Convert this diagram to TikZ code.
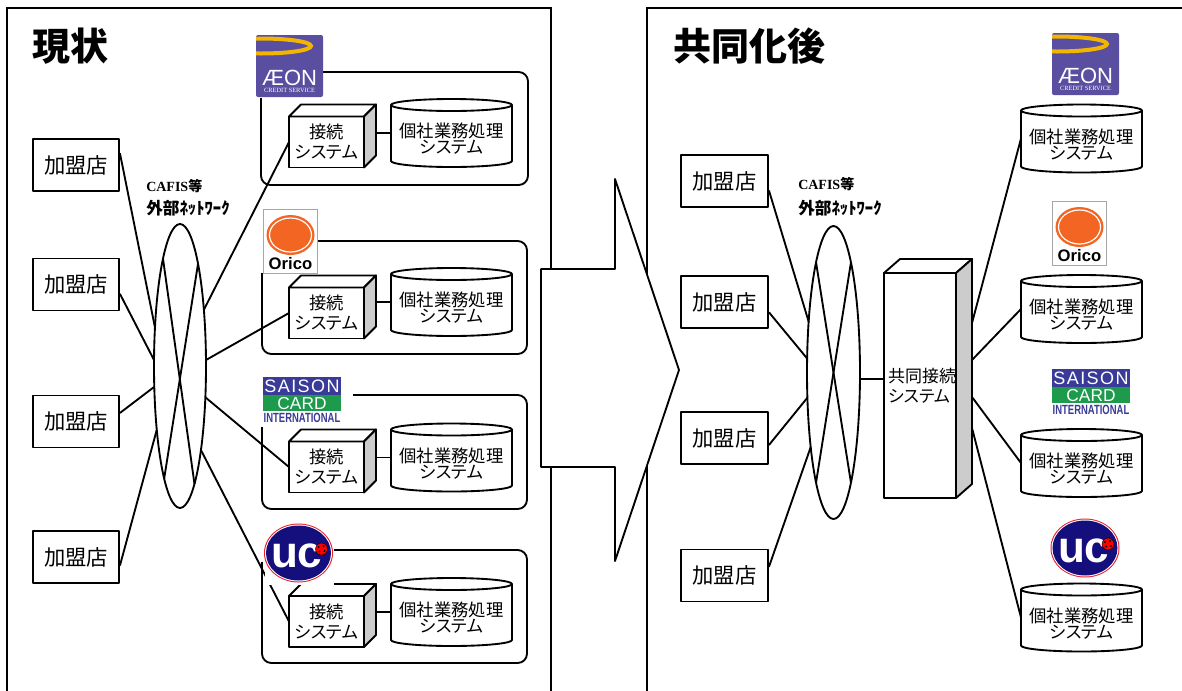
\documentclass[tikz,border=0pt]{standalone}
\usepackage{fontspec}
\usepackage{graphicx}
\usetikzlibrary{shapes.geometric,calc}
\newfontfamily\jp{Noto Sans CJK JP}[RawFeature=+palt]
\newfontfamily\lsans{Liberation Sans}
\newfontfamily\lserif{Liberation Serif}
\definecolor{aeonpurple}{RGB}{90,78,160}
\definecolor{aeonyellow}{RGB}{242,182,0}
\definecolor{oricoorange}{RGB}{242,101,34}
\definecolor{saisonblue}{RGB}{58,58,152}
\definecolor{saisongreen}{RGB}{29,154,76}
\definecolor{ucnavy}{RGB}{20,15,125}
\definecolor{ucred}{RGB}{232,32,42}
\definecolor{sidegray}{RGB}{204,204,204}
\tikzset{
  thk/.style={line width=1.4pt, line join=round},
  frm/.style={line width=1.5pt},
  shopbox/.style={thk, draw, fill=white, minimum width=64.5pt, minimum height=39pt, inner sep=0pt,
    font=\jp\fontsize{16}{18}\selectfont},
  frontbox/.style={thk, draw, fill=white, minimum width=56.25pt, minimum height=38.25pt, inner sep=0pt,
    outer sep=0pt, align=center, font=\jp\fontsize{13}{15}\selectfont},
  kyobox/.style={thk, draw, fill=white, minimum width=54pt, minimum height=168.75pt, inner sep=0pt,
    outer sep=0pt, align=left, font=\jp\fontsize{12.75}{15}\selectfont},
  cylbox/.style={minimum width=90.75pt, minimum height=51pt, inner sep=0pt, outer sep=0pt},
  cyltext/.style={align=center, inner sep=0pt, font=\jp\fontsize{13}{12}\selectfont},
  net/.style={draw, ellipse, thk, inner sep=0pt, outer sep=0pt},
  grp/.style={thk, rounded corners=7pt},
  cafis/.style={anchor=west, inner sep=0pt, font=\jp\bfseries\fontsize{12.5}{13}\selectfont},
  ttl/.style={inner sep=0pt, font=\jp\bfseries\fontsize{28.5}{30}\selectfont}
}
\newcommand\mkthreed[3]{%
  \draw[thk, fill=white] (#1.north west) -- ++(#2,-#3) -- ($(#1.north east)+(#2,-#3)$) -- (#1.north east) -- cycle;
  \draw[thk, fill=sidegray] (#1.north east) -- ++(#2,-#3) -- ($(#1.south east)+(#2,-#3)$) -- (#1.south east) -- cycle;}
\newcommand\mkcyl[1]{%
  \draw[thk, fill=white] ($(#1.north west)+(0,6)$) -- ($(#1.south west)+(0,-6)$)
     arc[start angle=180, end angle=0, x radius=60.5, y radius=6]
     -- ($(#1.north east)+(0,6)$)
     arc[start angle=0, end angle=-180, x radius=60.5, y radius=6] -- cycle;
  \draw[thk] ($(#1.north west)+(0,6)$) arc[start angle=180, end angle=0, x radius=60.5, y radius=6];}
\newcommand\aeonlogo[3]{%
  \begin{scope}[shift={(#1,#2)}]
    \fill[aeonpurple, rounded corners=1.5pt] (0,0) rectangle (67,62);
    \begin{scope}
      \clip (0,0) rectangle (67,62);
      \draw[aeonyellow, line width=3pt] (5,11) ellipse [x radius=50, y radius=7.5];
    \end{scope}
    \node[text=white, inner sep=0pt, font=\lsans\fontsize{16.5}{16}\selectfont] (#3) at (33.5,42.5) {ÆON};
    \node[text=white, inner sep=0pt, font=\lserif\fontsize{4.8}{5}\selectfont] (#3s) at (33.5,55.5) {CREDIT SERVICE};
  \end{scope}}
\newcommand\oricologo[3]{%
  \begin{scope}[shift={(#1,#2)}]
    \draw[gray!70, fill=white, line width=0.4pt] (0,0) rectangle (54,64);
    \fill[oricoorange] (27.5,26) ellipse [x radius=24, y radius=20];
    \draw[white, line width=0.9pt] (27.5,26) ellipse [x radius=21, y radius=17];
    \node[inner sep=0pt, font=\lsans\bfseries\fontsize{12.5}{13}\selectfont] (#3) at (27.5,55) {Orico};
  \end{scope}}
\newcommand\saisonlogo[3]{%
  \begin{scope}[shift={(#1,#2)}]
    \fill[saisonblue] (0,0) rectangle (78,18);
    \fill[saisongreen] (0,18) rectangle (78,34);
    \node[text=white, inner sep=0pt, font=\lsans\addfontfeature{LetterSpace=8}\fontsize{13.5}{14}\selectfont] (#3) at (39,9.5) {SAISON};
    \node[text=white, inner sep=0pt, font=\lsans\fontsize{13}{14}\selectfont] (#3c) at (39,26.5) {CARD};
    \node[text=saisonblue, inner sep=0pt, font=\lsans\bfseries\fontsize{10}{10}\selectfont] (#3i) at (39,40.5) {\scalebox{0.71}[1]{INTERNATIONAL}};
  \end{scope}}
\newcommand\uclogo[3]{%
  \begin{scope}[shift={(#1,#2)}]
    \fill[ucred] (0,0) ellipse [x radius=34.5, y radius=29.5];
    \fill[white] (0,0) ellipse [x radius=33.5, y radius=28.5];
    \fill[ucnavy] (0,0) ellipse [x radius=32.5, y radius=27.5];
    \node[text=white, inner sep=0pt, font=\lsans\bfseries\fontsize{33}{33}\selectfont] (#3) at (-1.5,2.5) {u\kern-1pt c};
    \fill[red, draw=black, line width=0.3pt] (23,-4) circle [radius=6];
    \fill[black] (20,-6) circle [radius=1.1];
    \fill[black] (25,-7) circle [radius=1.1];
    \fill[black] (21,-1.5) circle [radius=1.1];
    \fill[black] (26,-2) circle [radius=1.1];
  \end{scope}}
\begin{document}
\begin{tikzpicture}[x=0.75pt,y=-0.75pt]
\useasboundingbox (0,0) rectangle (1182,690);
\clip (0,0) rectangle (1182,690);
% frames
\draw[frm] (7,8) rectangle (551,720);
\draw[frm] (647,8) rectangle (1200,720);
% big arrow
\draw[thk, fill=white] (541,269) -- (615,269) -- (615,179) -- (679,370) -- (615,561) -- (615,467) -- (541,467) -- cycle;
% titles
\node[ttl] (titleL) at (70,46) {現状};
\node[ttl] (titleR) at (749,46) {共同化後};
% ---------------- left panel ----------------
\draw[grp] (323,72) -- (528,72) -- (528,185) -- (261,185) -- (261,98);
\draw[grp] (317,241) -- (527,241) -- (527,354) -- (262,354) -- (262,273);
\draw[grp] (353,395) -- (527,395) -- (527,509) -- (262,509) -- (262,427);
\draw[grp] (333,550) -- (527,550) -- (527,663) -- (262,663) -- (262,562);

\node[shopbox] (l1) at (76,165) {加盟店};
\node[shopbox] (l2) at (76,284.5) {加盟店};
\node[shopbox] (l3) at (76,421.5) {加盟店};
\node[shopbox] (l4) at (76,557) {加盟店};

\node[cafis] (cafisL1) at (146,186) {{\lserif\bfseries\fontsize{10.5}{12}\selectfont CAFIS}\fontsize{10.5}{12}\selectfont 等};
\node[cafis] (cafisL2) at (146,208) {外部ﾈｯﾄﾜｰｸ};

\node[net, minimum width=39pt, minimum height=213pt] (netL) at (180,366) {};
\draw[thk] (netL.99.7) -- (netL.277.2);
\draw[thk] (netL.80.3) -- (netL.262.8);

% cylinders and connection boxes (left)
\node[cylbox] (cyl1) at (451.5,133) {};
\node[cylbox] (cyl2) at (451.5,302) {};
\node[cylbox] (cyl3) at (451.5,457.5) {};
\node[cylbox] (cyl4) at (451.5,612) {};
\mkcyl{cyl1}\mkcyl{cyl2}\mkcyl{cyl3}\mkcyl{cyl4}
\node[cyltext] (cyl1t) at ($(cyl1.center)+(0,6)$) {個社業務処理\\システム};
\node[cyltext] (cyl2t) at ($(cyl2.center)+(0,6)$) {個社業務処理\\システム};
\node[cyltext] (cyl3t) at ($(cyl3.center)+(0,6)$) {個社業務処理\\システム};
\node[cyltext] (cyl4t) at ($(cyl4.center)+(0,6)$) {個社業務処理\\システム};

\node[frontbox] (cb1) at (326.5,142) {接続\\システム};
\node[frontbox] (cb2) at (326.5,313) {接続\\システム};
\node[frontbox] (cb3) at (326.5,467) {接続\\システム};
\node[frontbox] (cb4) at (326.5,621.5) {接続\\システム};
\coordinate (cb1s) at ($(cb1.east)+(12,0)$);
\coordinate (cb2s) at ($(cb2.east)+(12,0)$);
\coordinate (cb3s) at ($(cb3.east)+(12,0)$);
\coordinate (cb4s) at ($(cb4.east)+(12,0)$);
\draw[thk] (cyl1.west) -- (cyl1.west -| cb1s);
\draw[thk] (cyl2.west) -- (cyl2.west -| cb2s);
\draw[thk] (cyl3.west) -- (cyl3.west -| cb3s);
\draw[thk] (cyl4.west) -- (cyl4.west -| cb4s);
\mkthreed{cb1}{12}{12}\mkthreed{cb2}{12}{12}\mkthreed{cb3}{12}{12}\mkthreed{cb4}{12}{12}

% connectors (left)
\draw[thk] (l1.15.6) -- (netL.123.4);
\draw[thk] (l2.348.8) -- (netL.167);
\draw[thk] (l3.11.2) -- (netL.219.3);
\draw[thk] (l4.349.5) -- (netL.250.8);
\draw[thk] (netL.67.8) -- (cb1.west);
\draw[thk] (netL.13) -- (cb2.west);
\draw[thk] (netL.309.3) -- (cb3.west);
\draw[thk] (netL.284.5) -- (cb4.west);

% logos (left)
\aeonlogo{256}{35}{aeonL}
\oricologo{263}{209}{oricoL}
\saisonlogo{263}{377}{saisonL}
\fill[white] (265,521) rectangle (334,585);
\uclogo{298.5}{553}{ucL}

% ---------------- right panel ----------------
\node[shopbox, minimum width=65.25pt] (r1) at (724.5,181) {加盟店};
\node[shopbox, minimum width=65.25pt] (r2) at (724.5,302) {加盟店};
\node[shopbox, minimum width=65.25pt] (r3) at (724.5,438) {加盟店};
\node[shopbox, minimum width=65.25pt] (r4) at (724.5,575.5) {加盟店};

\node[cafis] (cafisR1) at (798,184) {{\lserif\bfseries\fontsize{10.5}{12}\selectfont CAFIS}\fontsize{10.5}{12}\selectfont 等};
\node[cafis] (cafisR2) at (798,208) {外部ﾈｯﾄﾜｰｸ};

\node[net, minimum width=39.75pt, minimum height=219.75pt] (netR) at (833.5,372.5) {};
\draw[thk] (netR.99) -- (netR.279);
\draw[thk] (netR.81) -- (netR.261);

\draw[thk] (r1.348.3) -- (netR.116.5);
\draw[thk] (r2.347) -- (netR.152.1);
\draw[thk] (r3.351) -- (netR.224.9);
\draw[thk] (r4.11) -- (netR.253.2);

\node[kyobox] (kyo) at (920,385.5) {\hspace*{3pt}共同接続\\\hspace*{3pt}システム};
\mkthreed{kyo}{16}{14}
\draw[thk] (netR.347) -- (netR.347 -| kyo.west);

\node[cylbox] (rc1) at (1081.5,138.5) {};
\node[cylbox] (rc2) at (1081.5,309) {};
\node[cylbox] (rc3) at (1081.5,463) {};
\node[cylbox] (rc4) at (1081.5,617.5) {};
\mkcyl{rc1}\mkcyl{rc2}\mkcyl{rc3}\mkcyl{rc4}
\node[cyltext] (rc1t) at ($(rc1.center)+(0,6)$) {個社業務処理\\システム};
\node[cyltext] (rc2t) at ($(rc2.center)+(0,6)$) {個社業務処理\\システム};
\node[cyltext] (rc3t) at ($(rc3.center)+(0,6)$) {個社業務処理\\システム};
\node[cyltext] (rc4t) at ($(rc4.center)+(0,6)$) {個社業務処理\\システム};

\coordinate (ks1) at ($(kyo.north east)+(16,50)$);
\coordinate (ks2) at ($(kyo.north east)+(16,87)$);
\coordinate (ks3) at ($(kyo.north east)+(16,124)$);
\coordinate (ks4) at ($(kyo.north east)+(16,155)$);
\draw[thk] (ks1) -- (rc1.west);
\draw[thk] (ks2) -- (rc2.west);
\draw[thk] (ks3) -- (rc3.west);
\draw[thk] (ks4) -- (rc4.west);

\aeonlogo{1052}{33}{aeonR}
\oricologo{1052}{201}{oricoR}
\saisonlogo{1052}{369}{saisonR}
\uclogo{1085}{548}{ucR}
\end{tikzpicture}
\end{document}
